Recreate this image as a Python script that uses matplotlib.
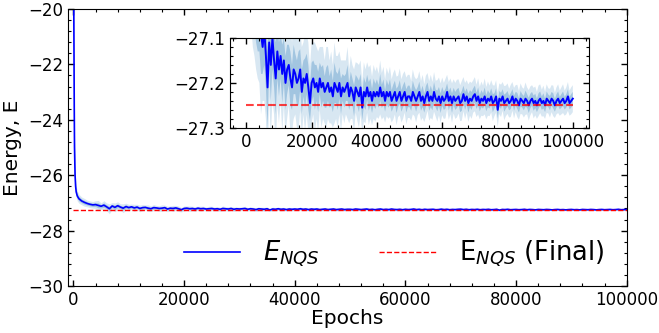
import numpy as np
import matplotlib
matplotlib.use('Agg')
import matplotlib.pyplot as plt
from matplotlib.ticker import AutoMinorLocator, MultipleLocator

# Training history
early_epochs = [0, 50, 100, 150, 200, 300, 400, 500, 700, 1000, 1500, 2000, 2500, 3000, 3500]
early_energy = [-16.0, -19.0, -21.5, -23.5, -25.0, -26.0, -26.4, -26.6, -26.75, -26.85,
                -26.93, -26.98, -27.02, -27.05, -27.07]
early_std = [0.30, 0.30, 0.30, 0.25, 0.20, 0.15, 0.12, 0.10, 0.09, 0.08, 0.07, 0.07, 0.06, 0.06, 0.06]

late_epochs = list(range(4000, 100001, 500))
late_energy = [
    -27.06, -27.09, -27.12, -27.08, -27.14, -27.21, -27.11, -27.16, -27.10, -27.15, -27.19, -27.13,
    -27.17, -27.14, -27.18, -27.15, -27.20, -27.17, -27.16, -27.19, -27.21, -27.17,
    -27.18, -27.20, -27.19, -27.17, -27.22, -27.19, -27.20, -27.18, -27.21, -27.245,
    -27.20, -27.19, -27.21, -27.20, -27.22, -27.19, -27.21, -27.20, -27.22, -27.21,
    -27.20, -27.22, -27.21, -27.23, -27.20, -27.21, -27.22, -27.20, -27.23, -27.21,
    -27.22, -27.21, -27.20, -27.23, -27.21, -27.22, -27.24, -27.21, -27.22, -27.23,
    -27.21, -27.255, -27.22, -27.23, -27.21, -27.23, -27.22, -27.24, -27.22, -27.23,
    -27.22, -27.23, -27.21, -27.23, -27.22, -27.24, -27.22, -27.23, -27.22, -27.24,
    -27.23, -27.22, -27.24, -27.23, -27.22, -27.24, -27.23, -27.22, -27.24, -27.23,
    -27.23, -27.24, -27.22, -27.23, -27.24, -27.23, -27.22, -27.24, -27.23, -27.245,
    -27.23, -27.22, -27.24, -27.23, -27.24, -27.22, -27.235, -27.24, -27.23, -27.245,
    -27.23, -27.24, -27.235, -27.22, -27.24, -27.23, -27.245, -27.23, -27.24, -27.235,
    -27.23, -27.245, -27.24, -27.225, -27.24, -27.23, -27.245, -27.235, -27.24, -27.23,
    -27.225, -27.24, -27.23, -27.245, -27.235, -27.24, -27.23, -27.245, -27.235, -27.24,
    -27.23, -27.245, -27.24, -27.23, -27.26, -27.235, -27.24, -27.23, -27.245, -27.24,
    -27.235, -27.245, -27.24, -27.23, -27.245, -27.235, -27.24, -27.25, -27.235, -27.24,
    -27.245, -27.235, -27.24, -27.25, -27.24, -27.235, -27.245, -27.24, -27.25, -27.24,
    -27.235, -27.245, -27.24, -27.25, -27.235, -27.24, -27.245, -27.235, -27.24, -27.25,
    -27.24, -27.235, -27.245, -27.24, -27.235, -27.245, -27.24, -27.23, -27.245, -27.24,
    -27.235,
]
late_std = [
    0.07, 0.09, 0.06, 0.08, 0.07, 0.09, 0.06, 0.08, 0.07, 0.06, 0.08, 0.06,
    0.06, 0.05, 0.065, 0.05, 0.06, 0.055, 0.045, 0.06, 0.05, 0.055,
    0.045, 0.05, 0.06, 0.045, 0.05, 0.04, 0.055, 0.045, 0.05, 0.04,
    0.045, 0.04, 0.05, 0.04, 0.045, 0.035, 0.045, 0.04, 0.035, 0.045,
    0.04, 0.035, 0.04, 0.035, 0.045, 0.035, 0.04, 0.035, 0.04, 0.03,
    0.035, 0.03, 0.04, 0.03, 0.035, 0.03, 0.035, 0.028, 0.032, 0.035,
    0.03, 0.028, 0.033, 0.03, 0.028, 0.032, 0.03, 0.027, 0.03, 0.028,
    0.028, 0.025, 0.03, 0.026, 0.028, 0.024, 0.027, 0.025, 0.028, 0.024,
    0.026, 0.025, 0.027, 0.023, 0.026, 0.024, 0.025, 0.023, 0.026, 0.024,
    0.024, 0.022, 0.025, 0.022, 0.024, 0.021, 0.023, 0.022, 0.024, 0.021,
    0.023, 0.021, 0.022, 0.024, 0.021, 0.022, 0.02, 0.023, 0.021, 0.022,
    0.021, 0.02, 0.022, 0.019, 0.021, 0.02, 0.022, 0.019, 0.02, 0.021,
    0.019, 0.02, 0.022, 0.019, 0.02, 0.018, 0.021, 0.019, 0.02, 0.018,
    0.019, 0.018, 0.02, 0.018, 0.019, 0.017, 0.02, 0.018, 0.019, 0.017,
    0.018, 0.02, 0.017, 0.018, 0.019, 0.017, 0.018, 0.016, 0.019, 0.017,
    0.017, 0.016, 0.018, 0.016, 0.017, 0.015, 0.018, 0.016, 0.017, 0.015,
    0.016, 0.018, 0.015, 0.017, 0.016, 0.015, 0.017, 0.016, 0.015, 0.017,
    0.016, 0.015, 0.017, 0.015, 0.016, 0.014, 0.016, 0.015, 0.017, 0.014,
    0.015, 0.016, 0.014, 0.015, 0.016, 0.014, 0.015, 0.016, 0.014, 0.015,
    0.015,
]
e_final = -27.25

epochs = np.array(early_epochs + late_epochs)
energy = np.array(early_energy + late_energy)
std = np.array(early_std + late_std)


def style_axis(ax):
    ax.xaxis.set_minor_locator(AutoMinorLocator(5))
    ax.yaxis.set_minor_locator(AutoMinorLocator(5))
    ax.tick_params(which='both', direction='in', top=True, right=True, labelsize=12)
    ax.tick_params(which='major', length=4.5, width=1)
    ax.tick_params(which='minor', length=2.5, width=0.8)


def draw_band(ax):
    # one and two sigma bands, giving the soft edge of the reference
    ax.fill_between(epochs, energy - 2 * std, energy + 2 * std, color='#3f88c0', alpha=0.2, linewidth=0)
    ax.fill_between(epochs, energy - std, energy + std, color='#3f88c0', alpha=0.35, linewidth=0)


fig = plt.figure(figsize=(6.59, 3.33), dpi=100)
ax = fig.add_axes([0.103, 0.141, 0.848, 0.832])

draw_band(ax)
ax.plot(epochs, energy, color='blue', linewidth=1.2, label='$E_{NQS}$')
ax.hlines(e_final, epochs[0], epochs[-1], colors='red', linestyles='--', linewidth=1,
          label='E$_{NQS}$ (Final)')
ax.set_xlim(-1000, 100000)
ax.set_ylim(-30, -20)
ax.xaxis.set_major_locator(MultipleLocator(20000))
ax.yaxis.set_major_locator(MultipleLocator(2))
style_axis(ax)
ax.set_xlabel('Epochs', fontsize=14.5, labelpad=0)
ax.set_ylabel('Energy, E', fontsize=14.5)
ax.legend(loc='center', bbox_to_anchor=(0.584, 0.116), ncol=2, frameon=False,
          fontsize=18.5, handlelength=2.2, handletextpad=0.9, columnspacing=2.3)

# Inset zoom on the converged part
ins = fig.add_axes([0.349, 0.616, 0.545, 0.27])
draw_band(ins)
ins.plot(epochs, energy, color='blue', linewidth=1.4)
ins.hlines(e_final, epochs[0], epochs[-1], colors='red', linestyles='--', linewidth=1.5, alpha=0.75)
ins.set_xlim(-5000, 105000)
ins.set_ylim(-27.3, -27.1)
ins.xaxis.set_major_locator(MultipleLocator(20000))
ins.yaxis.set_major_locator(MultipleLocator(0.1))
style_axis(ins)

fig.savefig('out.png', dpi=100)
